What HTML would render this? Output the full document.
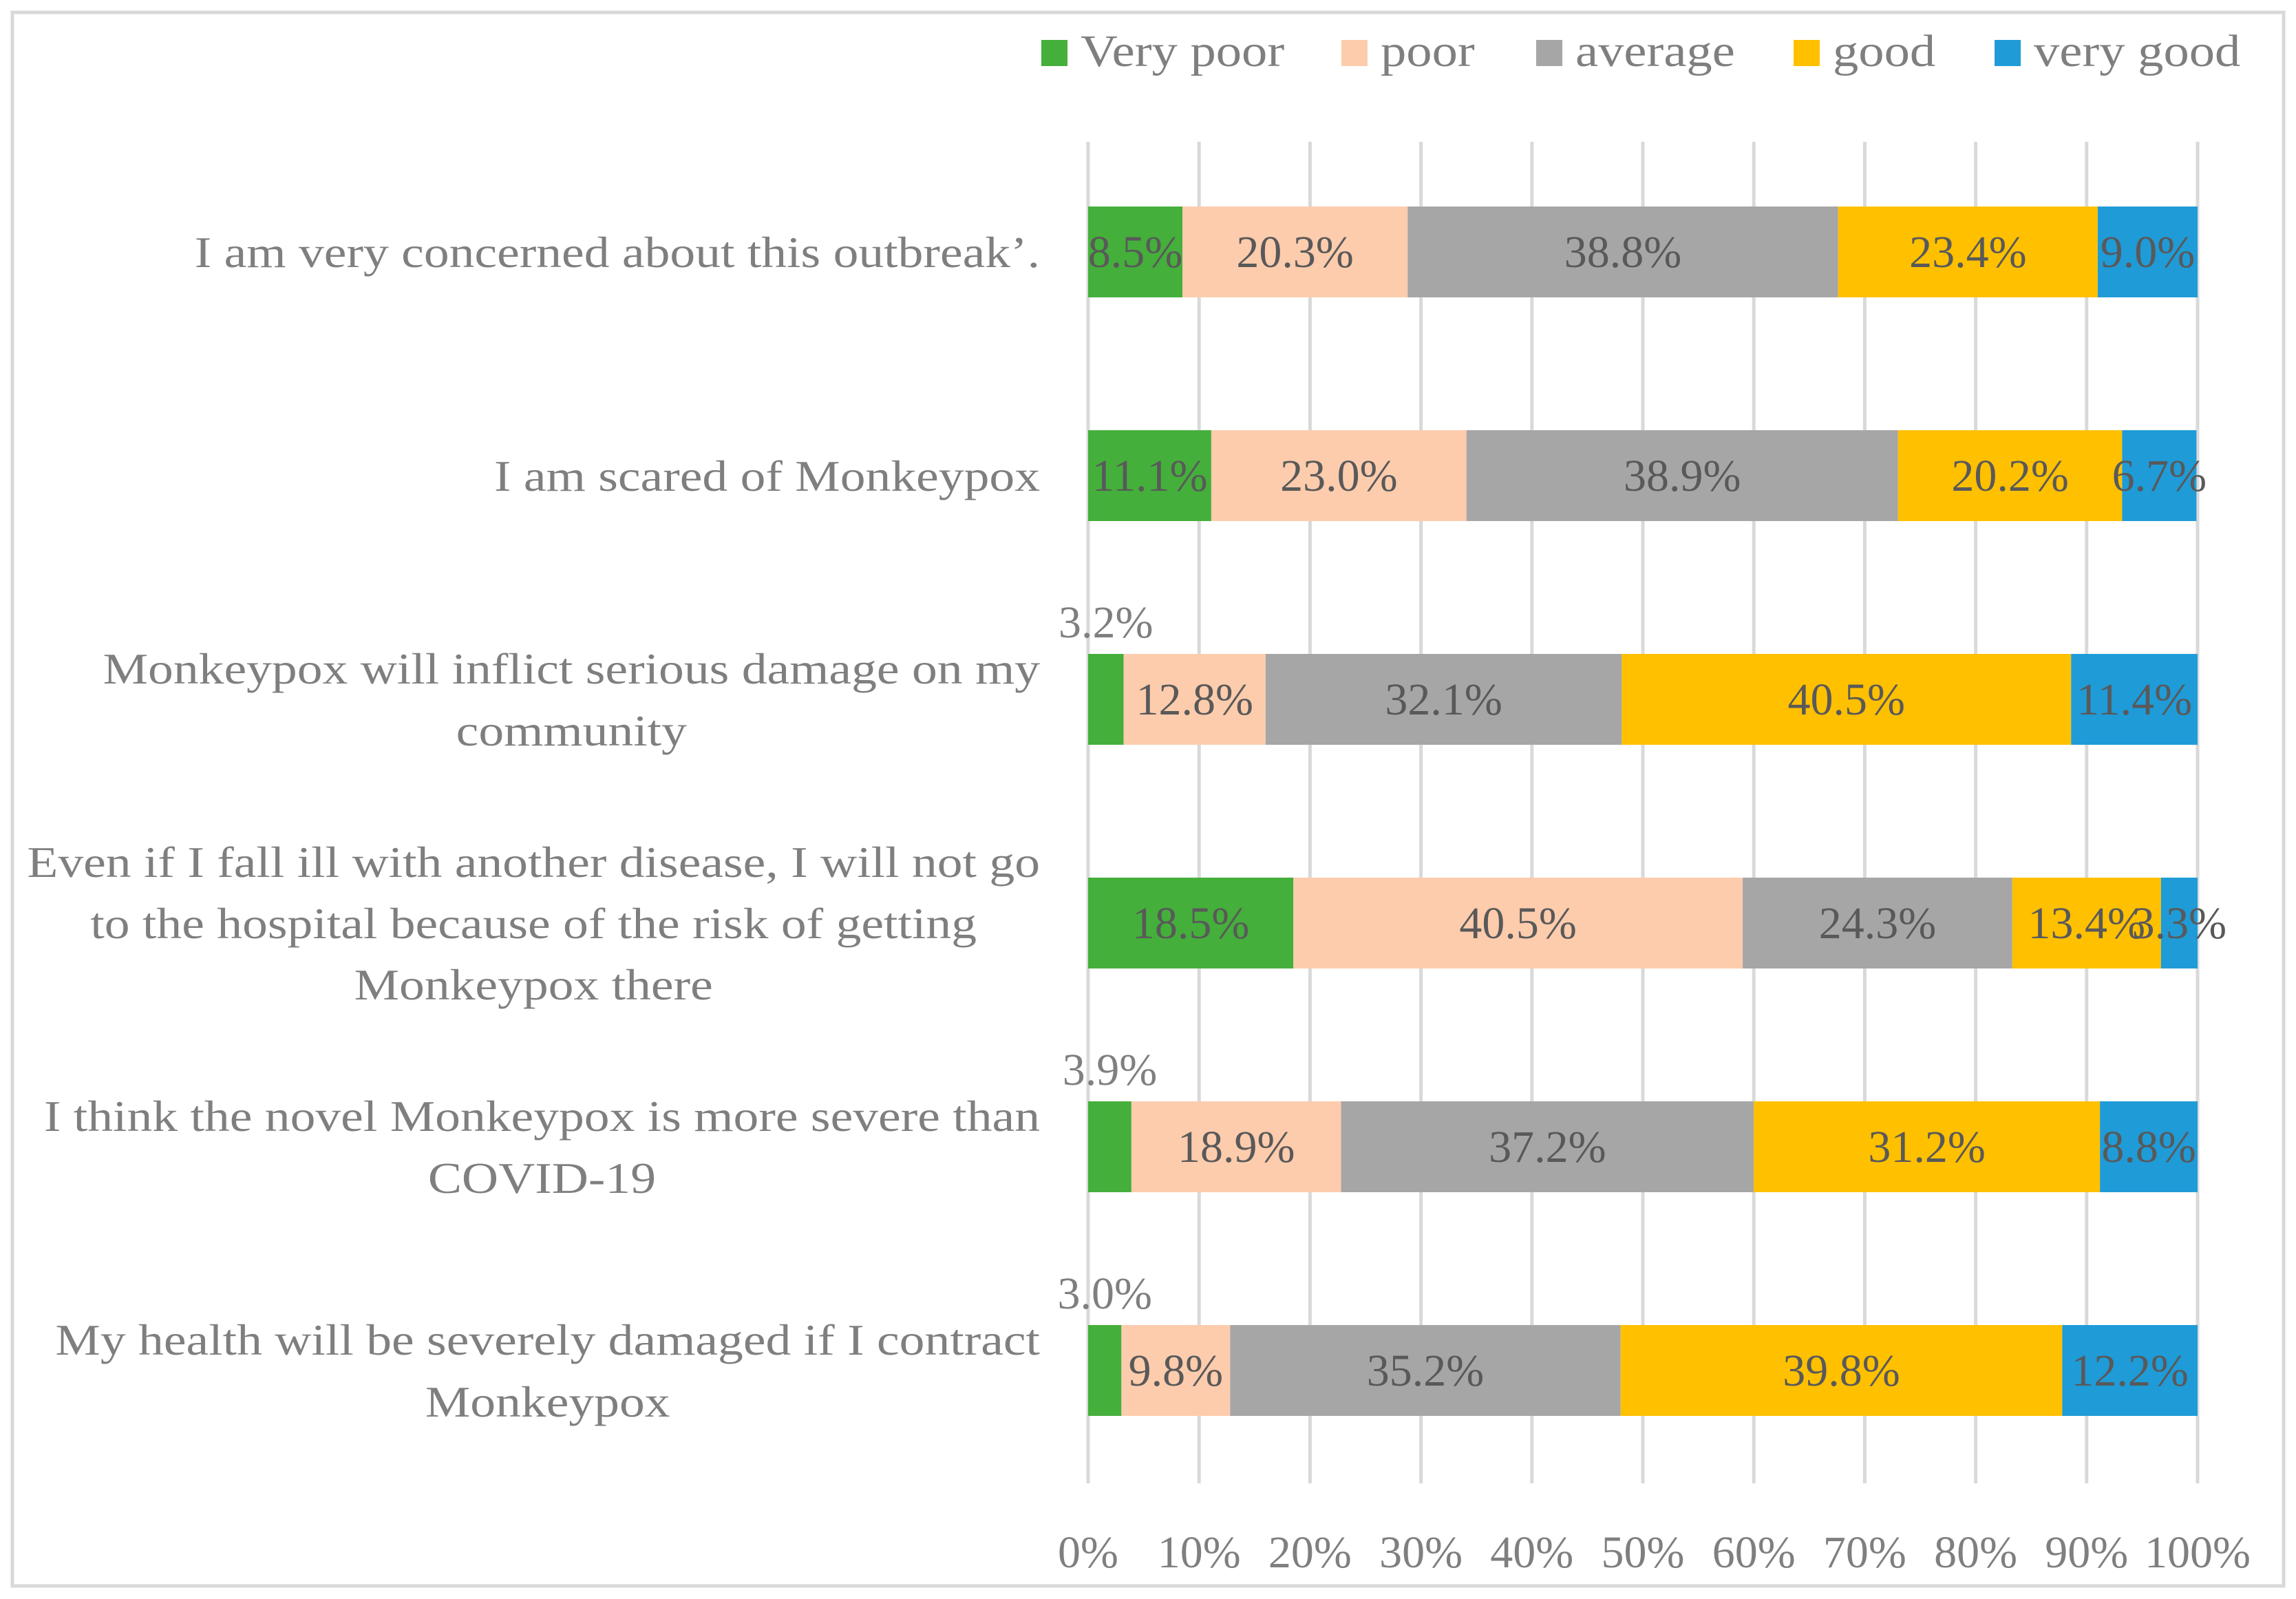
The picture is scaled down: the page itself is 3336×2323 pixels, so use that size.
<!DOCTYPE html>
<html><head><meta charset="utf-8"><style>
html,body{margin:0;padding:0;background:#fff;}
svg{display:block;font-family:"Liberation Serif",serif;}
</style></head><body>
<svg id="chart" width="3336" height="2323" viewBox="0 0 3336 2323" xmlns="http://www.w3.org/2000/svg">
<rect x="18" y="18" width="3300" height="2286" fill="#fff" stroke="#d9d9d9" stroke-width="5"/>
<g id="grid"></g>
<g id="bars"></g>
<g id="labels"></g>
<g id="cats"></g>
<g id="ticks"></g>
<g id="legend"></g>
</svg>
<script>
const categories = [
  ["I am very concerned about this outbreak’."],
  ["I am scared of Monkeypox"],
  ["Monkeypox will inflict serious damage on my","community"],
  ["Even if I fall ill with another disease, I will not go","to the hospital because of the risk of getting","Monkeypox there"],
  ["I think the novel Monkeypox is more severe than","COVID-19"],
  ["My health will be severely damaged if I contract","Monkeypox"]
];
const seriesNames = ["Very poor","poor","average","good","very good"];
const veryPoor = [8.5,11.1,3.2,18.5,3.9,3.0];
const poor = [20.3,23.0,12.8,40.5,18.9,9.8];
const average = [38.8,38.9,32.1,24.3,37.2,35.2];
const good = [23.4,20.2,40.5,13.4,31.2,39.8];
const veryGood = [9.0,6.7,11.4,3.3,8.8,12.2];
const tickValues = [0,10,20,30,40,50,60,70,80,90,100];

const NS="http://www.w3.org/2000/svg";
const colors=["#44af3b","#fdccad","#a6a6a6","#ffc000","#1f9bd7"];
const series=[veryPoor,poor,average,good,veryGood];
const X0=1581,X1=3193;
const xs=v=>X0+(X1-X0)*v/100;
const rowTop=i=>300+325*i;
const BH=132;
function mk(tag,attrs,parent){const e=document.createElementNS(NS,tag);for(const k in attrs)e.setAttribute(k,attrs[k]);parent.appendChild(e);return e;}
function stretch(t,f){const w=t.getComputedTextLength();t.setAttribute('textLength',w*f);t.setAttribute('lengthAdjust','spacingAndGlyphs');return w*f;}
const grid=document.getElementById('grid'),bars=document.getElementById('bars'),labels=document.getElementById('labels'),cats=document.getElementById('cats'),ticks=document.getElementById('ticks'),legend=document.getElementById('legend');

tickValues.forEach(t=>{
  const l=mk('line',{x1:xs(t),x2:xs(t),y1:206,y2:2155,stroke:'#d9d9d9','stroke-width':5},grid);
  
  
  const tx=mk('text',{x:xs(t),y:2277,'text-anchor':'middle','font-size':66,fill:'#7f7f7f'},ticks);
  tx.textContent=t+'%';
  
  
});

categories.forEach((lines,i)=>{
  let cum=0;
  const top=rowTop(i);
  series.forEach((s,k)=>{
    const v=s[i];
    const r=mk('rect',{x:xs(cum),y:top,width:xs(cum+v)-xs(cum),height:BH,fill:colors[k]},bars);
    
    
    const cx=(xs(cum)+xs(cum+v))/2;
    const above=(k===0&&v<5);
    const t=mk('text',{x:cx,y:above?top-24:top+BH/2+22,'text-anchor':'middle','font-size':66,fill:above?'#7f7f7f':'#595959'},labels);
    t.textContent=v.toFixed(1)+'%';
    
    
    cum+=v;
  });
  const c=top+BH/2;
  const step=lines.length===3?89:90;
  const start=c-(lines.length-1)*step/2;
  const g=mk('g',{},cats);
  
  
  const els=lines.map((ln,j)=>{const t=mk('text',{x:1511,y:start+j*step+22,'text-anchor':'middle','font-size':64,fill:'#7f7f7f'},g);t.textContent=ln;return t;});
  let maxW=0;els.forEach(e=>{maxW=Math.max(maxW,stretch(e,1.15));});
  els.forEach(e=>e.setAttribute('x',1511-maxW/2));
});

const legX=[1513,1949,2232,2606,2898];
seriesNames.forEach((n,k)=>{
  const g=mk('g',{},legend);
  
  
  mk('rect',{x:legX[k],y:58,width:38,height:38,fill:colors[k]},g);
  const t=mk('text',{x:legX[k]+57,y:96,'font-size':66,fill:'#7f7f7f'},g);
  t.textContent=n;
  stretch(t,1.13);
});
</script>
</body></html>
